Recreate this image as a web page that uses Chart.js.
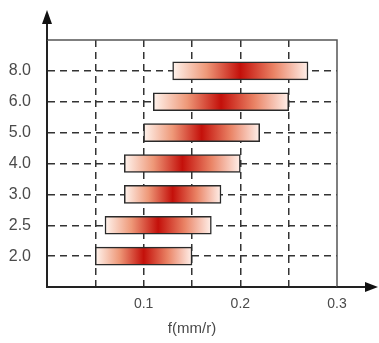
<!DOCTYPE html>
<html>
<head>
<meta charset="utf-8">
<script src="https://cdn.jsdelivr.net/npm/chart.js@4"></script>
<style>
  html, body { margin: 0; padding: 0; background: #fff; }
  #wrap { width: 379px; height: 343px; }
</style>
</head>
<body>
<div id="wrap"><canvas id="myChart"></canvas></div>
<script>
(function(){
    'use strict';

    // row labels bottom to top, and the start / end of each range on f(mm/r)
    const categories = ['2.0', '2.5', '3.0', '4.0', '5.0', '6.0', '8.0'];
    const fStart = [0.05, 0.06, 0.08, 0.08, 0.10, 0.11, 0.13];
    const fEnd = [0.15, 0.17, 0.18, 0.20, 0.22, 0.25, 0.27];
    const xLabels = ['0.1', '0.2', '0.3'];

    const lineColor = '#333';
    const textColor = '#4a4a4a';
    const clear = 'rgba(0,0,0,0)';

    let rows = [];
    for (let i = 0; i < categories.length; i++){
      rows.push({ y: i, x: [fStart[i], fEnd[i]] });
    }

    function barFill(c){
      const chart = c.chart;
      if (!chart.chartArea || c.type !== 'data' || !c.raw) return '#d0301e';
      const xs = chart.scales.x;
      const x0 = xs.getPixelForValue(c.raw.x[0]);
      const x1 = xs.getPixelForValue(c.raw.x[1]);
      const g = chart.ctx.createLinearGradient(x0, 0, x1, 0);
      g.addColorStop(0, '#fff4ee');
      g.addColorStop(0.25, '#ee9878');
      g.addColorStop(0.5, '#c4100a');
      g.addColorStop(0.75, '#ea8466');
      g.addColorStop(1, '#fff0ea');
      return g;
    }

    // arrows on the axes plus the thin frame on top and right
    const frame = {
      id: 'frame',
      afterDraw(chart){
        const {ctx, chartArea: a} = chart;
        ctx.save();
        ctx.strokeStyle = '#555';
        ctx.lineWidth = 1.5;
        ctx.beginPath();
        ctx.moveTo(a.left, a.top);
        ctx.lineTo(a.right, a.top);
        ctx.lineTo(a.right, a.bottom);
        ctx.stroke();

        ctx.strokeStyle = '#222';
        ctx.fillStyle = '#111';
        ctx.lineWidth = 2;
        ctx.beginPath();
        ctx.moveTo(a.left, a.top);
        ctx.lineTo(a.left, 22);
        ctx.moveTo(a.right, a.bottom);
        ctx.lineTo(368, a.bottom);
        ctx.stroke();

        ctx.beginPath();
        ctx.moveTo(a.left, 10);
        ctx.lineTo(a.left - 5, 24);
        ctx.lineTo(a.left + 5, 24);
        ctx.closePath();
        ctx.fill();
        ctx.beginPath();
        ctx.moveTo(378, a.bottom);
        ctx.lineTo(365, a.bottom - 5);
        ctx.lineTo(365, a.bottom + 5);
        ctx.closePath();
        ctx.fill();
        ctx.restore();
      }
    };

    function createChart(){
      const ctx = document.getElementById('myChart').getContext('2d');
      const myChart = new Chart(ctx, {
          type: 'bar',
          data: {
              datasets: [{
                  data: rows,
                  backgroundColor: barFill,
                  borderColor: '#2a2a2a',
                  borderWidth: 1.5,
                  borderSkipped: false,
                  barThickness: 18
              }]
          },
          options: {
              indexAxis: 'y',
              responsive: true,
              maintainAspectRatio: false,
              animation: false,
              layout: { padding: { top: 40, right: 42, left: 0, bottom: 0 } },
              scales: {
                  x: {
                      type: 'linear',
                      min: 0,
                      max: 0.3,
                      afterFit: s => { s.height = 56; },
                      ticks: {
                          stepSize: 0.05,
                          padding: 9,
                          color: textColor,
                          font: { family: 'Liberation Sans', size: 14 },
                          callback: v => {
                            const r = Math.round(v * 100);
                            return (r % 10 === 0 && r > 0) ? xLabels[r / 10 - 1] : '';
                          }
                      },
                      grid: {
                          drawTicks: false,
                          lineWidth: 1.5,
                          color: c => {
                            if (!c.tick) return lineColor;
                            const r = Math.round(c.tick.value * 100);
                            return (r === 0 || r === 30) ? clear : lineColor;
                          }
                      },
                      border: { display: true, color: '#222', width: 2, dash: [7, 5] },
                      title: {
                          display: true,
                          text: 'f(mm/r)',
                          color: textColor,
                          padding: { top: 10, bottom: 5 },
                          font: { family: 'Liberation Sans', size: 15 }
                      }
                  },
                  y: {
                      type: 'linear',
                      min: -1,
                      max: 7,
                      offset: false,
                      afterFit: s => { s.width = 47; },
                      ticks: {
                          stepSize: 1,
                          padding: 16,
                          color: textColor,
                          font: { family: 'Liberation Sans', size: 16 },
                          callback: v => categories[v] || ''
                      },
                      grid: {
                          offset: false,
                          drawTicks: false,
                          lineWidth: 1.5,
                          color: c => {
                            if (!c.tick) return lineColor;
                            const v = c.tick.value;
                            return (v < 0 || v >= categories.length) ? clear : lineColor;
                          }
                      },
                      border: { display: true, color: '#222', width: 2, dash: [7, 5] }
                  }
              },
              plugins: {
                legend: { display: false },
                tooltip: { enabled: false }
              }
          },
          plugins: [frame]
        }
      );
  }

    createChart();

})();
</script>
</body>
</html>
